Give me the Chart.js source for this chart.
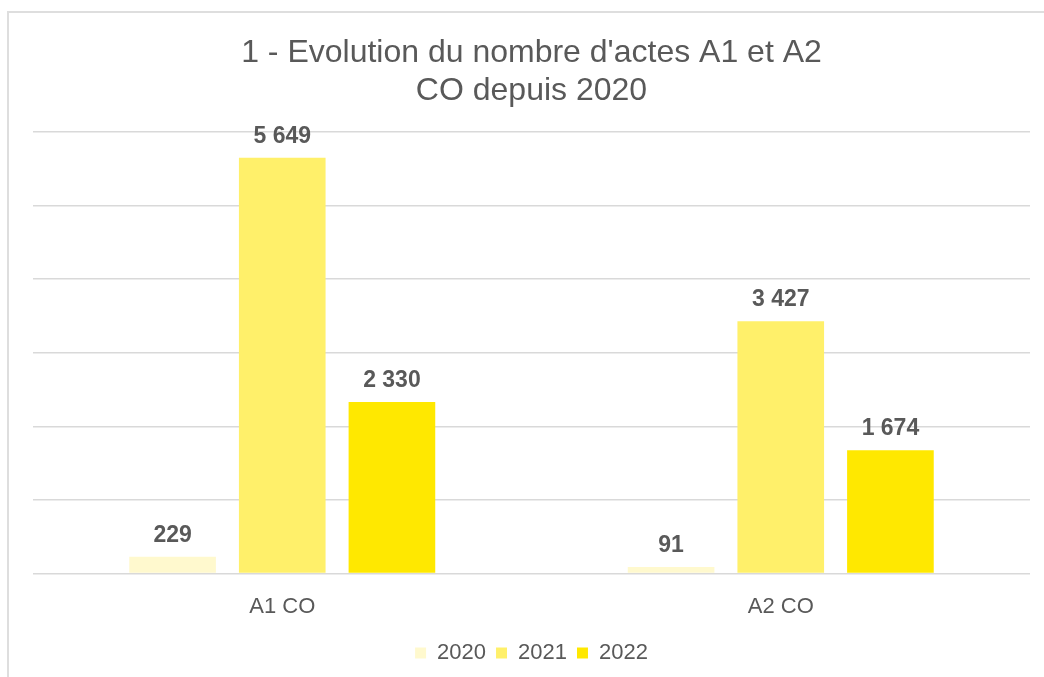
<!DOCTYPE html>
<html>
<head>
<meta charset="utf-8">
<script src="https://cdn.jsdelivr.net/npm/chart.js@4.4.0/dist/chart.umd.min.js"></script>
<style>
  html, body { margin: 0; padding: 0; background: #fff; overflow: hidden; }
  #frame { position: absolute; left: 7px; top: 11px; width: 1100px; height: 700px; border: 2px solid #dedede; }
  #wrap { position: absolute; left: 0; top: 0; width: 1044px; height: 677px; }
</style>
</head>
<body>
<div id="frame"></div>
<div id="wrap"><canvas id="myChart"></canvas></div>
<script>
// categories / series
const categories = ['A1 CO', 'A2 CO'];
const years = ['2020', '2021', '2022'];
const values2020 = [229, 91];
const values2021 = [5649, 3427];
const values2022 = [2330, 1674];
const yTicks = [0, 1000, 2000, 3000, 4000, 5000, 6000];

const textColor = '#595959';
const fontFamily = '"Liberation Sans", Arial, Helvetica, sans-serif';

function fmt(v) {
    return String(v).replace(/\B(?=(\d{3})+(?!\d))/g, ' ');
}

// labels above each bar
const barLabels = {
    id: 'barLabels',
    afterDatasetsDraw(chart) {
        const ctx = chart.ctx;
        ctx.save();
        ctx.font = 'bold 23px ' + fontFamily;
        ctx.fillStyle = textColor;
        ctx.textAlign = 'center';
        ctx.textBaseline = 'alphabetic';
        chart.data.datasets.forEach(function(ds, i) {
            chart.getDatasetMeta(i).data.forEach(function(bar, j) {
                ctx.fillText(fmt(ds.data[j]), bar.x, bar.y - 15);
            });
        });
        ctx.restore();
    }
};

var ctx = document.getElementById('myChart').getContext('2d');
var chart = new Chart(ctx, {
    type: 'bar',
    data: {
        labels: categories,
        datasets: [
            { label: years[0], data: values2020, backgroundColor: 'rgb(255,249,206)' },
            { label: years[1], data: values2021, backgroundColor: 'rgb(255,240,106)' },
            { label: years[2], data: values2022, backgroundColor: 'rgb(255,232,0)' }
        ]
    },
    options: {
        responsive: true,
        maintainAspectRatio: false,
        animation: false,
        layout: { padding: { left: 33, right: 14, top: 34, bottom: 3 } },
        datasets: { bar: { categoryPercentage: 0.66, barPercentage: 0.79 } },
        plugins: {
            title: {
                display: true,
                text: ["1 - Evolution du nombre d'actes A1 et A2", 'CO depuis 2020'],
                color: textColor,
                font: { family: fontFamily, size: 32, weight: 'normal', lineHeight: 1.2 },
                padding: { top: 0, bottom: 21 }
            },
            legend: {
                position: 'bottom',
                labels: {
                    color: textColor,
                    font: { family: fontFamily, size: 22 },
                    boxWidth: 11,
                    boxHeight: 11,
                    padding: 10
                }
            },
            tooltip: { enabled: false }
        },
        scales: {
            x: {
                grid: { display: false },
                border: { display: false },
                ticks: { color: textColor, font: { family: fontFamily, size: 22 }, padding: 12 }
            },
            y: {
                min: 0,
                max: yTicks[yTicks.length - 1],
                afterBuildTicks: function(axis) {
                    axis.ticks = yTicks.map(function(v) { return { value: v }; });
                },
                ticks: { display: false },
                grid: { color: '#d9d9d9', lineWidth: 1.5, drawTicks: false },
                border: { display: false }
            }
        }
    },
    plugins: [barLabels]
});
</script>
</body>
</html>
